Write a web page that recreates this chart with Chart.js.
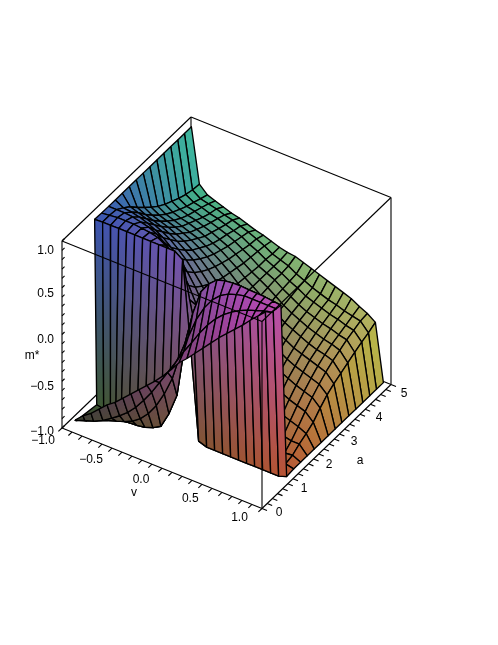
<!DOCTYPE html>
<html><head><meta charset="utf-8"><style>html,body{margin:0;padding:0;background:#fff}canvas{display:block}</style>
<script src="https://cdn.jsdelivr.net/npm/chart.js@4"></script></head><body><canvas id="c" width="498" height="645"></canvas>
<script>
const vValues=[-.96,-.88,-.80,-.72,-.64,-.56,-.48,-.40,-.32,-.24,-.16,-.08,0,.08,.16,.24,.32,.40,.48,.56,.64,.72,.80,.88,.96];
// low-a flap rows: a and m* per v
const aFlap0=[.35,.35,.35,.35,.35,.35,.35,.35,.35,.35,.35,.35,.35,.35,.35,.35,.35,.35,.35,.35,.35,.35,.35,.35,.35];
const mFlap0=[-.99,-.91,-.85,-.77,-.69,-.63,-.55,-.47,-.39,-.31,-.23,-.14,-.04,.07,.15,.24,.33,.42,.51,.59,.67,.75,.84,.92,1.0];
const aFlap1=[.37,.42,.45,.50,.53,.53,.53,.53,.53,.53,.53,.53,.53,.53,.53,.53,.53,.53,.53,.53,.53,.53,.53,.53,.53];
const mFlap1=[-1,-.98,-.96,-.93,-.88,-.82,-.75,-.66,-.55,-.43,-.29,-.15,-.01,.14,.27,.41,.53,.63,.71,.77,.82,.86,.89,.92,.94];
const aFlap2=[.38,.48,.58,.68,.71,.71,.71,.71,.71,.71,.71,.71,.71,.71,.71,.71,.71,.71,.71,.71,.71,.71,.71,.71,.71];
const mFlap2=[-1,-1,-.99,-.98,-.96,-.93,-.89,-.83,-.74,-.62,-.46,-.26,.03,.25,.47,.63,.75,.83,.88,.91,.93,.93,.93,.93,.93];
const aFlap3=[.40,.55,.72,.89,.89,.89,.89,.89,.89,.89,.89,.89,.89,.89,.89,.89,.89,.89,.89,.89,.89,.89,.89,.89,.89];
const mFlap3=[-1.01,-.99,-1,-1,-1,-.99,-.985,-.97,-.94,-.89,-.72,-.49,.10,.46,.72,.84,.915,.94,.95,.954,.947,.943,.94,.93,.92];
const aBase=[1.19,1.15,1.10,1.0,.89,.89,.89,.89,.89,.89,.89,.89,.89,.89,.89,.89,.89,.89,.89,.89,.89,.89,.89,.89,.89];
const mBase=[-1.05,-1.05,-1.05,-1.03,-1,-.99,-.985,-.97,-.94,-.89,-.72,-.49,.10,.46,.72,.84,.915,.94,.95,.954,.947,.943,.94,.93,.92];
// upper sheet rows
const aSheet=[1.11,1.38,1.65,1.91,2.18,2.45,2.72,2.99,3.25,3.52,3.79,4.06,4.33,4.59,4.86];
const mSheet=[
[.955,.96,.96,.96,.96,.96,.96,.96,.96,.96,.96,.90,0,-.97,-1,-1,-1,-1,-1,-1,-1,-1,-1,-1,-.97],
[.95,.96,.97,.97,.97,.96,.95,.93,.88,.78,.62,.40,.02,-.38,-.60,-.76,-.86,-.91,-.93,-.95,-.96,-.96,-.96,-.94,-.96],
[.95,.95,.95,.94,.92,.90,.86,.80,.72,.60,.45,.27,.02,-.25,-.43,-.58,-.70,-.78,-.84,-.88,-.90,-.92,-.93,-.92,-.96],
[.95,.90,.89,.87,.84,.80,.75,.68,.60,.49,.36,.20,.01,-.18,-.34,-.47,-.58,-.66,-.73,-.78,-.82,-.85,-.87,-.87,-.96],
[.95,.84,.81,.78,.75,.71,.66,.59,.51,.41,.30,.16,.01,-.14,-.28,-.39,-.49,-.57,-.64,-.69,-.73,-.76,-.79,-.83,-.96],
[.95,.76,.72,.69,.66,.62,.57,.51,.44,.35,.25,.13,.01,-.11,-.23,-.33,-.42,-.49,-.55,-.60,-.64,-.67,-.70,-.78,-.96],
[.95,.69,.64,.61,.58,.54,.50,.44,.38,.30,.21,.11,.01,-.09,-.19,-.28,-.36,-.42,-.48,-.52,-.56,-.59,-.62,-.70,-.96],
[.95,.62,.57,.54,.51,.48,.44,.39,.33,.26,.18,.09,.01,-.07,-.16,-.24,-.31,-.37,-.42,-.46,-.49,-.52,-.55,-.63,-.96],
[.95,.56,.51,.48,.45,.42,.39,.34,.29,.23,.16,.08,.01,-.06,-.14,-.21,-.27,-.32,-.37,-.40,-.43,-.46,-.49,-.58,-.96],
[.95,.51,.46,.43,.41,.38,.34,.30,.26,.20,.14,.07,.01,-.05,-.12,-.18,-.24,-.28,-.32,-.36,-.39,-.41,-.44,-.54,-.96],
[.95,.47,.42,.39,.37,.34,.31,.27,.23,.18,.12,.06,.01,-.04,-.10,-.16,-.21,-.25,-.29,-.32,-.35,-.37,-.40,-.50,-.96],
[.95,.43,.38,.36,.33,.31,.28,.25,.21,.16,.11,.05,.01,-.03,-.09,-.14,-.19,-.23,-.26,-.29,-.31,-.34,-.36,-.46,-.96],
[.95,.40,.35,.33,.30,.28,.25,.22,.19,.14,.10,.05,.01,-.03,-.08,-.12,-.17,-.20,-.23,-.26,-.28,-.31,-.33,-.42,-.96],
[.95,.38,.32,.30,.28,.25,.23,.20,.17,.13,.09,.04,.01,-.02,-.07,-.11,-.15,-.18,-.21,-.23,-.26,-.28,-.30,-.39,-.96],
[.95,.37,.29,.26,.23,.20,.18,.15,.12,.10,.07,.04,.02,.01,-.02,-.05,-.08,-.11,-.14,-.17,-.20,-.25,-.29,-.35,-.96]];
const vTicks=[-1,-.5,0,.5,1], aTicks=[0,1,2,3,4,5], mTicks=[-1,-.5,0,.5,1];
const vTitle="v", aTitle="a", mTitle="m*";

// orthographic view of the box
function proj(v,a,m){return {x:62+100*(v+1)+25.8*a, y:428+40.25*(v+1)-24.8*a-93.5*(m+1)};}
const cl=t=>Math.max(0,Math.min(1,t));
function rgb(v,a,m){return [Math.round(255*(.22+.52*cl((v+1)/2))),Math.round(255*(.22+.5*cl(a/5))),Math.round(255*(.2+.5*cl((m+1)/2)))];}
const css=c=>`rgb(${c[0]},${c[1]},${c[2]})`;
const rows=[[aFlap0,mFlap0],[aFlap1,mFlap1],[aFlap2,mFlap2],[aFlap3,mFlap3],[aBase,mBase]];
aSheet.forEach((a,j)=>rows.push([vValues.map(()=>a),mSheet[j]]));

const drawn=[];
function line(pts,w,col){drawn.push({type:'scatter',showLine:true,data:pts,borderColor:col||'#000',borderWidth:w||1.1,pointRadius:0,fill:false,tension:0});}
const seg=(p,q)=>line([proj(...p),proj(...q)]);
// hidden back edges first
seg([-1,5,1],[-1,5,-1]);seg([-1,0,-1],[-1,5,-1]);seg([-1,5,-1],[1,5,-1]);
seg([-1,5,1],[1,5,1]);seg([-1,5,1],[-1,0,1]);seg([1,5,1],[1,5,-1]);seg([-1,0,1],[-1,0,-1]);
// far rows first, and within a row from low v to high v
for(let j=rows.length-2;j>=0;j--){
  const [a0,m0]=rows[j],[a1,m1]=rows[j+1];
  for(let k=0;k<vValues.length-1;k++){
    const P=[[vValues[k],a0[k],m0[k]],[vValues[k+1],a0[k+1],m0[k+1]],[vValues[k+1],a1[k+1],m1[k+1]],[vValues[k],a1[k],m1[k]]];
    const pts=P.map(p=>proj(...p));pts.push(pts[0]);
    const mix=(p,q)=>p.map((x,i)=>(x+q[i])/2);
    const A=mix(P[0],P[1]),C=mix(P[2],P[3]);
    const ca=css(rgb(...A)),cb=css(rgb(...C));
    drawn.push({type:'scatter',showLine:true,data:pts,fill:'shape',borderColor:'#000',borderWidth:1.35,borderJoinStyle:'round',pointRadius:0,tension:0,
      backgroundColor(ctx){const ch=ctx.chart,sx=ch.scales.x,sy=ch.scales.y;
        if(!sx||!ch.ctx||!ch.chartArea)return ca;
        const p=proj(...A),q=proj(...C);
        const x0=sx.getPixelForValue(p.x),y0=sy.getPixelForValue(p.y),x1=sx.getPixelForValue(q.x),y1=sy.getPixelForValue(q.y);
        if(Math.hypot(x1-x0,y1-y0)<.5)return ca;
        const g=ch.ctx.createLinearGradient(x0,y0,x1,y1);g.addColorStop(0,ca);g.addColorStop(1,cb);return g;}});
  }
}
// front edges and axes
seg([-1,0,-1],[1,0,-1]);seg([1,0,-1],[1,5,-1]);
seg([-1,0,1],[1,0,1]);seg([1,0,1],[1,5,1]);seg([1,0,1],[1,0,-1]);
for(let i=0;i<=20;i++){const v=-1+i*.1;seg([v,0,-1],[v,-.14,-1]);}
for(let i=0;i<=25;i++){const a=i*.2;seg([1,a,-1],[1.05,a,-1]);}
for(let i=0;i<=20;i++){const m=-1+i*.1;seg([-1,0,m],[-1,.1,m]);}
drawn.reverse();

const textPlugin={id:'axisText',afterDatasetsDraw(ch){
  const c=ch.ctx,sx=ch.scales.x,sy=ch.scales.y;
  c.save();c.fillStyle='#000';c.font='12px "Liberation Sans"';c.textBaseline='middle';
  const put=(t,p,dx,dy)=>c.fillText(t,sx.getPixelForValue(p.x+dx),sy.getPixelForValue(p.y+dy));
  const fmt=n=>(n<0?'\u2212':'')+Math.abs(n).toFixed(1);
  c.textAlign='right';
  mTicks.forEach(m=>{put(fmt(m),proj(-1,0,m),-8,m===1?10:(m===-1?4:5.5));});
  c.textAlign='center';
  vTicks.forEach(v=>{put(fmt(v),proj(v,0,-1),v===-1?-19:-21-1.5*Math.max(v,0),v===-1?13:11-1.5*v);});
  aTicks.forEach(a=>put(String(a),proj(1,a,-1),17-.8*a,4+1.1*a));
  put(mTitle,proj(-1,0,0),-30,21);
  put(vTitle,proj(0,0,-1),-28,24.7);
  put(aTitle,proj(1,2.5,-1),33.5,14);
  c.restore();}};

new Chart(document.getElementById('c'),{type:'scatter',data:{datasets:drawn},plugins:[textPlugin],
 options:{responsive:false,animation:false,events:[],layout:{padding:0},
  plugins:{legend:{display:false},tooltip:{enabled:false},title:{display:false},filler:{drawTime:'beforeDatasetDraw',propagate:false}},
  scales:{x:{type:'linear',display:false,min:0,max:498},y:{type:'linear',display:false,min:0,max:645,reverse:true}}}});
</script></body></html>
